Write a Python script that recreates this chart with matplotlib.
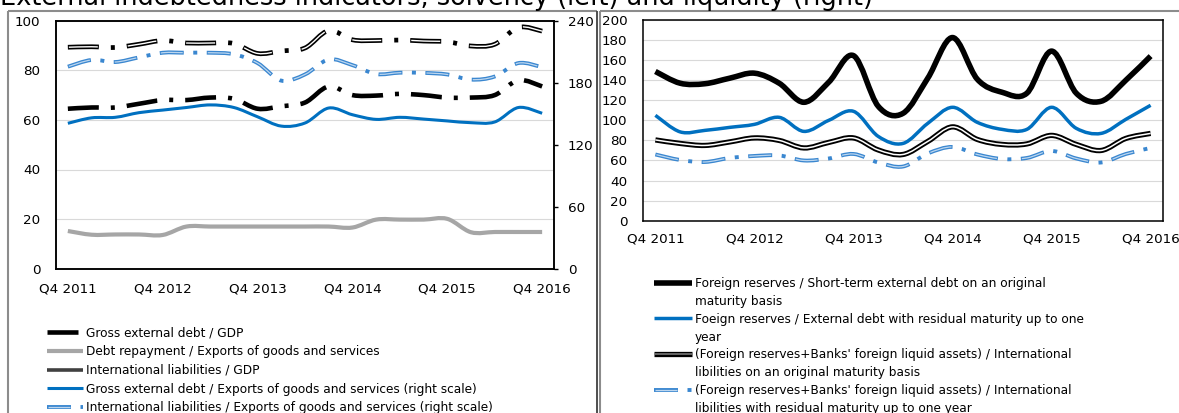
import numpy as np
import matplotlib
matplotlib.use("Agg")
import matplotlib.pyplot as plt
from matplotlib.path import Path
from matplotlib.patches import PathPatch
from matplotlib.lines import Line2D
from matplotlib.legend_handler import HandlerTuple

plt.rcParams['font.family'] = ['DejaVu Sans']
plt.rcParams['lines.scale_dashes'] = False

W, H, DPI = 1179, 413, 100
PX = 72.0 / DPI  # points per pixel

# ---------------- data ----------------
title = "External indebtedness indicators, solvency (left) and liquidity (right)"

quarters = ['Q4 2011', 'Q1 2012', 'Q2 2012', 'Q3 2012', 'Q4 2012', 'Q1 2013', 'Q2 2013',
            'Q3 2013', 'Q4 2013', 'Q1 2014', 'Q2 2014', 'Q3 2014', 'Q4 2014', 'Q1 2015',
            'Q2 2015', 'Q3 2015', 'Q4 2015', 'Q1 2016', 'Q2 2016', 'Q3 2016', 'Q4 2016']

# left panel, left scale
gross_debt_gdp = [64.5, 65, 65, 66.5, 68, 68, 69, 68.5, 64.5, 65.5, 67, 73.5,
                  70, 69.8, 70.5, 70, 69, 69, 70, 76, 73.5]
debt_repayment_exports = [15.2, 13.7, 13.8, 13.8, 13.6, 17, 17, 17, 17, 17, 17, 17,
                          16.6, 19.8, 19.8, 19.8, 20.1, 14.7, 14.8, 14.8, 14.8]
intl_liab_gdp = [89.3, 89.5, 89.2, 90.5, 92, 91, 91, 90.8, 86.8, 87.8, 89, 96,
                 92.3, 92, 92.2, 91.8, 91.5, 89.8, 90.5, 97.3, 95.8]
# left panel, right scale
gross_debt_exports = [140.7, 146, 146.5, 151, 153.5, 156, 158.5, 156, 147, 138, 141, 155.5,
                      149, 144.5, 146.5, 144.8, 143, 141.3, 142, 156, 150.4]
intl_liab_exports = [195.5, 202, 200, 204.5, 209, 209, 209, 207.5, 199, 182, 188, 202.5,
                     197, 188.4, 189.7, 189.5, 188, 183, 186, 199, 195]

# right panel
fr_st_debt = [148.7, 137, 136.5, 142, 147, 137, 118, 138, 164.5, 114, 107, 142,
              182.5, 141, 128, 127, 169, 127, 119, 140, 164]
fr_residual_debt = [105, 88.5, 90, 93, 96, 103, 89, 100, 109, 84, 77, 97,
                    113, 98, 91, 91, 113, 92, 87, 101, 115]
frb_intl_orig = [80.5, 77, 75, 78.5, 82.5, 80, 72.5, 78, 82.5, 70.5, 66, 79,
                 93.5, 81, 76, 76.5, 85, 76, 70, 82, 87]
frb_intl_resid = [66, 60.5, 58.5, 62.5, 64.5, 65, 60, 62, 66.5, 58, 54, 67,
                  73.5, 66, 61.5, 62.5, 69.5, 62, 58, 66.5, 72.5]

left_labels = ["Gross external debt / GDP",
               "Debt repayment / Exports of goods and services",
               "International liabilities / GDP",
               "Gross external debt / Exports of goods and services (right scale)",
               "International liabilities / Exports of goods and services (right scale)"]
right_labels = [["Foreign reserves / Short-term external debt on an original", "maturity basis"],
                ["Foeign reserves / External debt with residual maturity up to one", "year"],
                ["(Foreign reserves+Banks' foreign liquid assets) / International",
                 "libilities on an original maturity basis"],
                ["(Foreign reserves+Banks' foreign liquid assets) / International",
                 "libilities with residual maturity up to one year"]]

left_ticks = [0, 20, 40, 60, 80, 100]
left2_ticks = [0, 60, 120, 180, 240]
right_ticks = list(range(0, 201, 20))
xtick_idx = [0, 4, 8, 12, 16, 20]

# ---------------- styles ----------------
BLACK = '#000000'
GRAY = '#a6a6a6'
BLUE = '#0070c0'
LBLUE_OUT = '#3a87d0'
LBLUE_IN = '#bcd6ef'
GRID = '#d9d9d9'

def pts(*px):
    return tuple(p * PX for p in px)

DASHDOT_L = pts(31, 12, 4, 12)               # long dash-dot (left panel black)
DASHDOT_L_IN = (58 * PX, pts(29, 30))        # inner white of double line
DASHDOT_S = pts(24, 9.5, 4, 9.5)             # dash-dot of light-blue double lines
DASHDOT_S_IN = (46 * PX, pts(22, 25))


def smooth_path(x, y):
    """Excel-like smoothed line as cubic Bezier segments through the data."""
    x = np.asarray(x, float)
    y = np.asarray(y, float)
    n = len(x)
    verts = [(x[0], y[0])]
    codes = [Path.MOVETO]
    for i in range(n - 1):
        p0 = np.array([x[max(i - 1, 0)], y[max(i - 1, 0)]])
        p1 = np.array([x[i], y[i]])
        p2 = np.array([x[i + 1], y[i + 1]])
        p3 = np.array([x[min(i + 2, n - 1)], y[min(i + 2, n - 1)]])
        c1 = p1 + (p2 - p0) / 6.0
        c2 = p2 - (p3 - p1) / 6.0
        verts += [tuple(c1), tuple(c2), tuple(p2)]
        codes += [Path.CURVE4] * 3
    return Path(verts, codes)


def draw(ax, y, color, lw, ls='-', z=3):
    x = np.arange(len(y))
    p = PathPatch(smooth_path(x, y), fill=False, edgecolor=color, lw=lw,
                  linestyle=ls, capstyle='butt', joinstyle='round', zorder=z)
    ax.add_patch(p)
    return p


def proxy(color, lw, ls='-'):
    return Line2D([], [], color=color, lw=lw, linestyle=ls, dash_capstyle='butt',
                  solid_capstyle='butt')


fig = plt.figure(figsize=(W / DPI, H / DPI), dpi=DPI)

def fig_axes(x0, x1, ytop, ybot):
    return fig.add_axes([x0 / W, 1 - ybot / H, (x1 - x0) / W, (ybot - ytop) / H])

TICK_FS = 9.7
LEG_FS = 8.7

# ---------------- left panel ----------------
ax = fig_axes(56, 554, 20.7, 268.7)
ax2 = ax.twinx()
n = len(quarters)
for a in (ax, ax2):
    a.set_xlim(-0.5, n - 0.5)
    a.set_facecolor('none')
ax.set_ylim(0, 100)
ax2.set_ylim(0, 240)
ax.set_yticks(left_ticks)
ax2.set_yticks(left2_ticks)
ax.set_xticks(xtick_idx)
ax.set_xticklabels([quarters[i] for i in xtick_idx])
ax.grid(axis='y', color=GRID, lw=0.8)
ax.set_axisbelow(True)
ax.tick_params(axis='y', length=0, pad=11.3, labelsize=TICK_FS)
ax.tick_params(axis='x', length=0, pad=9.8, labelsize=TICK_FS)
ax2.tick_params(axis='y', length=4 * PX, width=1.0, direction='out', pad=7.0,
                labelsize=TICK_FS)
for a in (ax, ax2):
    for s in a.spines.values():
        s.set_linewidth(1.1)
        s.set_color('black')

draw(ax, debt_repayment_exports, GRAY, 3.0)
draw(ax, gross_debt_gdp, BLACK, 3.3, (0, DASHDOT_L))
draw(ax, intl_liab_gdp, BLACK, 3.4, (0, DASHDOT_L), z=4)
draw(ax, intl_liab_gdp, 'white', 1.0, DASHDOT_L_IN, z=5)
draw(ax2, gross_debt_exports, BLUE, 2.2)
draw(ax2, intl_liab_exports, LBLUE_OUT, 2.8, (0, DASHDOT_S), z=4)
draw(ax2, intl_liab_exports, LBLUE_IN, 0.9, DASHDOT_S_IN, z=5)

lh = [proxy(BLACK, 3.3, (0, DASHDOT_L)),
      proxy(GRAY, 3.0),
      proxy('#404040', 2.6),
      proxy(BLUE, 2.2),
      (proxy(LBLUE_OUT, 2.8, (0, DASHDOT_S)), proxy(LBLUE_IN, 0.9, DASHDOT_S_IN))]
fpx = LEG_FS / PX
fig.legend(lh, left_labels, loc='upper left',
           bbox_to_anchor=(47 / W, 1 - 326.5 / H), frameon=False, borderpad=0,
           borderaxespad=0, fontsize=LEG_FS, handlelength=36 / fpx,
           handletextpad=3 / fpx, labelspacing=0.47,
           handler_map={tuple: HandlerTuple(ndivide=1, pad=0)})

# ---------------- right panel ----------------
bx = fig_axes(643, 1163, 20.0, 220.7)
bx.set_xlim(-0.5, n - 0.5)
bx.set_ylim(0, 200)
bx.set_yticks(right_ticks)
bx.set_xticks(xtick_idx)
bx.set_xticklabels([quarters[i] for i in xtick_idx])
bx.grid(axis='y', color=GRID, lw=0.8)
bx.set_axisbelow(True)
bx.tick_params(axis='y', length=0, pad=11.3, labelsize=TICK_FS)
bx.tick_params(axis='x', length=0, pad=8.3, labelsize=TICK_FS)
for s in bx.spines.values():
    s.set_linewidth(1.1)
    s.set_color('black')

draw(bx, frb_intl_resid, LBLUE_OUT, 2.8, (0, DASHDOT_S), z=3)
draw(bx, frb_intl_resid, LBLUE_IN, 0.9, DASHDOT_S_IN, z=3.1)
draw(bx, frb_intl_orig, BLACK, 3.8, z=4)
draw(bx, frb_intl_orig, 'white', 1.1, z=4.1)
draw(bx, fr_residual_debt, BLUE, 2.5, z=5)
draw(bx, fr_st_debt, BLACK, 4.0, z=6)

blank = Line2D([], [], color='none', lw=0)
rh_main = [proxy(BLACK, 4.0),
           proxy(BLUE, 2.5),
           (proxy(BLACK, 3.8), proxy('#808080', 1.1)),
           (proxy(LBLUE_OUT, 2.8, (0, DASHDOT_S)), proxy(LBLUE_IN, 0.9, DASHDOT_S_IN))]
rh, rl = [], []
for h, (l1, l2) in zip(rh_main, right_labels):
    rh += [h, blank]
    rl += [l1, l2]
fig.legend(rh, rl, loc='upper left',
           bbox_to_anchor=(654 / W, 1 - 277 / H), frameon=False, borderpad=0,
           borderaxespad=0, fontsize=LEG_FS, handlelength=38 / fpx,
           handletextpad=3 / fpx, labelspacing=0.40,
           handler_map={tuple: HandlerTuple(ndivide=1, pad=0)})

# ---------------- panel frames ----------------
def fline(x0, y0, x1, y1, color, lw):
    fig.add_artist(Line2D([x0 / W, x1 / W], [1 - y0 / H, 1 - y1 / H],
                          transform=fig.transFigure, color=color, lw=lw,
                          solid_capstyle='butt'))

FR = '#8c8c8c'
fline(8.3, 11, 596.5, 11, FR, 1.5)
fline(8.3, 11, 8.3, H + 2, FR, 1.5)
fline(596.5, 11, 596.5, H + 2, '#404040', 1.3)
fline(600.3, 10.5, W + 2, 10.5, FR, 1.5)
fline(600.3, 10.5, 600.3, H + 2, FR, 1.5)

# ---------------- title (partly above the top edge, as in the reference) ----------------
t = fig.text(0.0, 1 - 5 / H, title, fontsize=15, va='baseline', ha='left')
fig.canvas.draw()
w = t.get_window_extent().width
t.set_fontsize(15 * 877 / w)

fig.savefig('out.png', dpi=DPI)
